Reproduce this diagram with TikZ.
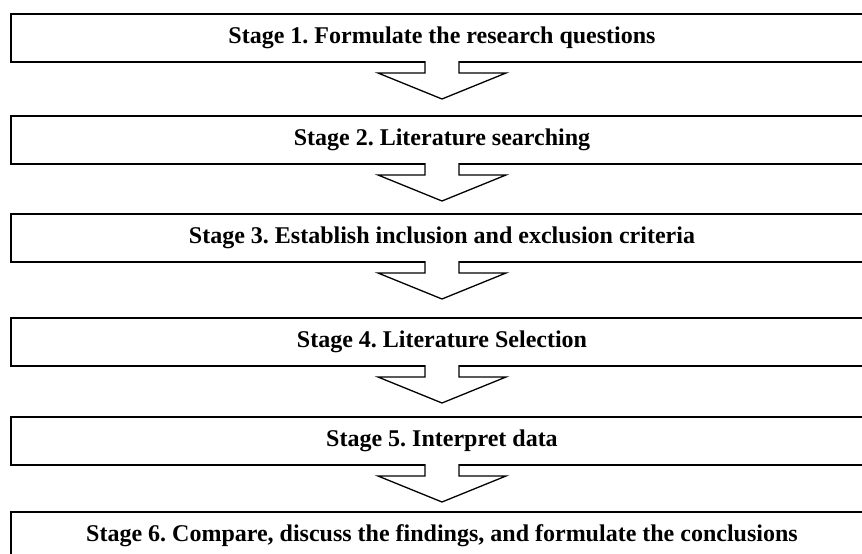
\documentclass[tikz,border=0pt]{standalone}
\usepackage{fontspec}
\setmainfont{Liberation Serif}
\usepackage{tikz}
\usetikzlibrary{calc}
\frenchspacing

\begin{document}
\begin{tikzpicture}[
  x=1pt, y=-1pt,
  stagebox/.style={draw, line width=1.3pt, minimum width=862pt, minimum height=48pt, inner sep=0pt, outer sep=0pt, font=\fontsize{24}{28}\selectfont\bfseries},
  blockarrow/.style={draw, fill=white, line width=1.3pt, line join=miter}
]
  \useasboundingbox (0,0) rectangle (862,554);

  % Etapes
  \foreach \i/\y/\txt in {1/38/{Stage 1. Formulate the research questions},
                          2/140/{Stage 2. Literature searching},
                          3/238/{Stage 3. Establish inclusion and exclusion criteria},
                          4/342/{Stage 4. Literature Selection},
                          5/441/{Stage 5. Interpret data},
                          6/536/{Stage 6. Compare, discuss the findings, and formulate the conclusions}} {
    \node[stagebox] (s\i) at (442,\y) {\txt};
  }

  % Fleches entre etapes
  \foreach \i in {1,...,5} {
    \path[blockarrow] ($(s\i.south)+(-17,-1)$) -- ($(s\i.south)+(-17,11)$)
      -- ($(s\i.south)+(-64,11)$) -- ($(s\i.south)+(0,37)$)
      -- ($(s\i.south)+(64,11)$) -- ($(s\i.south)+(17,11)$)
      -- ($(s\i.south)+(17,-1)$);
  }
\end{tikzpicture}
\end{document}
